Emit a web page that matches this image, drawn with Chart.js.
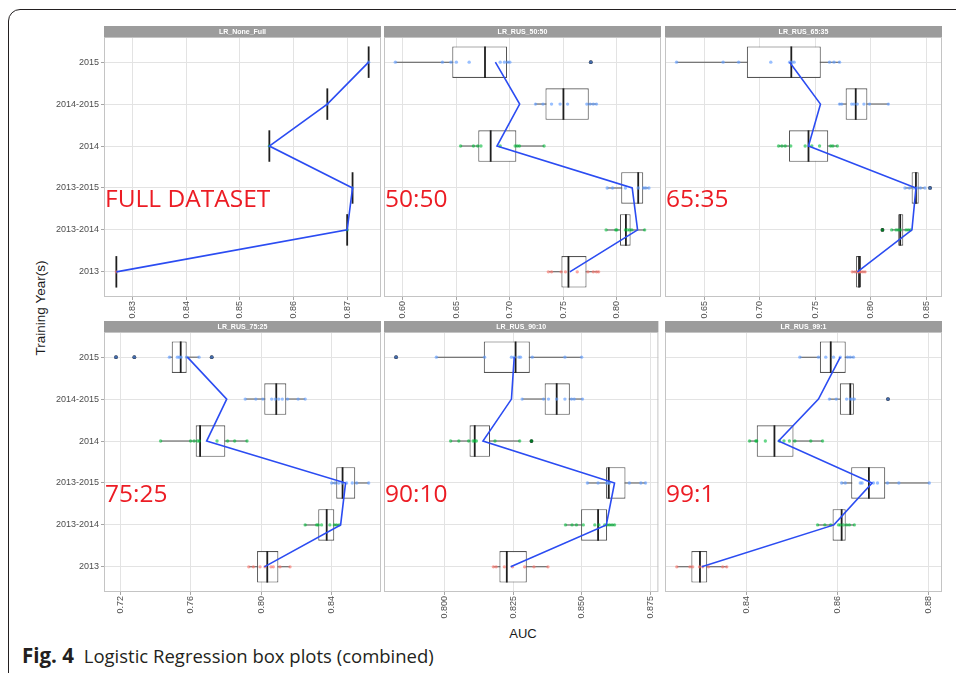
<!DOCTYPE html>
<html>
<head>
<meta charset="utf-8">
<script src="https://cdn.jsdelivr.net/npm/chart.js@4.4.0/dist/chart.umd.min.js"></script>
<style>
  body { margin:0; background:#fff; width:956px; height:673px; overflow:hidden; position:relative; font-family:"Liberation Sans", Arial, sans-serif; }
  .frame { position:absolute; left:8px; top:9px; width:1000px; height:700px; border:1.3px solid #231f20; border-radius:12px; }
  canvas { position:absolute; }
  .ylab { position:absolute; left:40px; top:308px; transform:translate(-50%,-50%) rotate(-90deg); font-size:13.5px; color:#1a1a1a; white-space:nowrap; }
  .xlab { position:absolute; left:523px; top:633px; transform:translate(-50%,-50%); font-size:13px; color:#1a1a1a; }
  .caption { position:absolute; left:22px; top:645px; font-family:"Open Sans", sans-serif; font-size:18.5px; color:#231f20; line-height:20px; white-space:nowrap; }
  .caption b { font-size:20.5px; margin-right:5px; }
</style>
</head>
<body>
<div class="frame"></div>
<div class="ylab">Training Year(s)</div>
<div class="xlab">AUC</div>
<div class="caption"><b>Fig. 4</b> Logistic Regression box plots (combined)</div>

<script>
// categories, bottom to top
var years = ['2013', '2013-2014', '2013-2015', '2014', '2014-2015', '2015'];
var panelNames = ['LR_None_Full', 'LR_RUS_50:50', 'LR_RUS_65:35', 'LR_RUS_75:25', 'LR_RUS_90:10', 'LR_RUS_99:1'];
var panelTags = ['FULL DATASET', '50:50', '65:35', '75:25', '90:10', '99:1'];

// x ticks + labels per panel
var ticksFull = [0.83, 0.84, 0.85, 0.86, 0.87];
var labelsFull = ['0.83', '0.84', '0.85', '0.86', '0.87'];
var ticks5050 = [0.60, 0.65, 0.70, 0.75, 0.80];
var labels5050 = ['0.60', '0.65', '0.70', '0.75', '0.80'];
var ticks6535 = [0.65, 0.70, 0.75, 0.80, 0.85];
var labels6535 = ['0.65', '0.70', '0.75', '0.80', '0.85'];
var ticks7525 = [0.72, 0.76, 0.80, 0.84];
var labels7525 = ['0.72', '0.76', '0.80', '0.84'];
var ticks9010 = [0.800, 0.825, 0.850, 0.875];
var labels9010 = ['0.800', '0.825', '0.850', '0.875'];
var ticks991 = [0.84, 0.86, 0.88];
var labels991 = ['0.84', '0.86', '0.88'];

// axis limits [min, max]
var limFull = [0.8247, 0.8763];
var lim5050 = [0.5824, 0.8413];
var lim6535 = [0.6146, 0.8644];
var lim7525 = [0.7109, 0.8680];
var lim9010 = [0.7779, 0.8780];
var lim991 = [0.8220, 0.8830];

// box stats per year: [lower whisker, q1, median, q3, upper whisker]
var statsFull = [[0.827,0.827,0.827,0.827,0.827],[0.870,0.870,0.870,0.870,0.870],[0.871,0.871,0.871,0.871,0.871],
  [0.8555,0.8555,0.8555,0.8555,0.8555],[0.8663,0.8663,0.8663,0.8663,0.8663],[0.874,0.874,0.874,0.874,0.874]];
var stats5050 = [[0.7364,0.7482,0.7548,0.7717,0.7832],[0.7904,0.8029,0.8085,0.8129,0.8263],[0.7913,0.8041,0.8200,0.8247,0.8297],
  [0.6540,0.6705,0.6821,0.7061,0.7320],[0.7236,0.7333,0.7501,0.7738,0.7810],[0.5931,0.6462,0.6768,0.6974,0.6999]];
var stats6535 = [[0.7835,0.7869,0.7896,0.7914,0.7956],[0.8192,0.8249,0.8267,0.8295,0.8358],[0.8313,0.8370,0.8409,0.8434,0.8485],
  [0.7171,0.7264,0.7440,0.7618,0.7699],[0.7715,0.7775,0.7866,0.7971,0.8165],[0.6249,0.6884,0.7285,0.7551,0.7724]];
var stats7525 = [[0.7931,0.7977,0.8035,0.8098,0.8164],[0.8247,0.8324,0.8372,0.8415,0.8443],[0.8400,0.8426,0.8462,0.8534,0.8610],
  [0.7431,0.7629,0.7654,0.7797,0.7922],[0.7912,0.8018,0.8086,0.8143,0.8249],[0.7480,0.7493,0.7544,0.7578,0.7648]];
var stats9010 = [[0.8178,0.8200,0.8227,0.8300,0.8377],[0.8441,0.8498,0.8560,0.8593,0.8620],[0.8521,0.8589,0.8599,0.8660,0.8733],
  [0.8022,0.8091,0.8110,0.8166,0.8274],[0.8283,0.8365,0.8409,0.8457,0.8503],[0.7970,0.8143,0.8259,0.8311,0.8500]];
var stats991 = [[0.8246,0.8278,0.8297,0.8313,0.8357],[0.8556,0.8589,0.8609,0.8618,0.8637],[0.8609,0.8630,0.8669,0.8705,0.8802],
  [0.8406,0.8422,0.8461,0.8503,0.8567],[0.8582,0.8605,0.8628,0.8636,0.8637],[0.8517,0.8561,0.8585,0.8618,0.8635]];

// blue line values per year
var lineFull = [0.8270, 0.8700, 0.8710, 0.8555, 0.8663, 0.8740];
var line5050 = [0.7561, 0.8194, 0.8144, 0.6880, 0.7092, 0.6865];
var line6535 = [0.7881, 0.8373, 0.8409, 0.7440, 0.7548, 0.7270];
var line7525 = [0.8018, 0.8451, 0.8479, 0.7691, 0.7805, 0.7582];
var line9010 = [0.8241, 0.8590, 0.8620, 0.8140, 0.8244, 0.8254];
var line991 = [0.8301, 0.8592, 0.8676, 0.8470, 0.8558, 0.8606];

// outliers per year
var outFull = [[],[],[],[],[],[]];
var out5050 = [[],[],[],[],[],[0.7757]];
var out6535 = [[],[0.8107],[0.8536],[],[],[]];
var out7525 = [[],[],[],[],[],[0.7177,0.7281,0.7720]];
var out9010 = [[],[],[],[0.8317],[],[0.7823]];
var out991 = [[],[],[],[],[0.8711],[]];

// individual runs per year
var ptsFull = [[0.827],[0.870],[0.871],[0.8555],[0.8663],[0.874]];
var pts5050 = [
  [0.736,0.739,0.748,0.752,0.763,0.773,0.778,0.781,0.783],
  [0.790,0.799,0.800,0.808,0.810,0.812,0.814,0.826],
  [0.791,0.796,0.808,0.820,0.825,0.827,0.830],
  [0.654,0.666,0.670,0.673,0.691,0.705,0.707,0.709,0.732],
  [0.724,0.731,0.739,0.747,0.754,0.772,0.775,0.778,0.781],
  [0.593,0.637,0.645,0.650,0.662,0.691,0.695,0.698,0.700,0.7757]];
var pts6535 = [
  [0.7835,0.786,0.788,0.789,0.790,0.791,0.793,0.795],
  [0.8107,0.819,0.823,0.825,0.827,0.832,0.834,0.836],
  [0.831,0.835,0.839,0.842,0.845,0.849,0.8536],
  [0.717,0.720,0.723,0.728,0.741,0.747,0.754,0.764,0.766,0.770],
  [0.772,0.774,0.783,0.785,0.788,0.794,0.799,0.816],
  [0.625,0.667,0.681,0.710,0.727,0.729,0.731,0.763,0.767,0.772]];
var pts7525 = [
  [0.793,0.7956,0.7994,0.8022,0.8056,0.8069,0.8107,0.8164],
  [0.825,0.8315,0.8324,0.8343,0.839,0.8415,0.8428,0.8443],
  [0.840,0.842,0.844,0.846,0.8485,0.8517,0.8542,0.861],
  [0.743,0.760,0.762,0.764,0.765,0.775,0.781,0.785,0.792],
  [0.791,0.797,0.801,0.806,0.808,0.810,0.812,0.815,0.821,0.825],
  [0.7177,0.7281,0.748,0.7525,0.7536,0.7546,0.7578,0.7648,0.7720]];
var pts9010 = [
  [0.8178,0.8188,0.8218,0.8248,0.8292,0.8326,0.8377],
  [0.8441,0.8465,0.8481,0.8506,0.8548,0.8563,0.8584,0.8593,0.8602,0.8611,0.8620],
  [0.8521,0.8560,0.8591,0.8597,0.8602,0.8674,0.8716,0.8733],
  [0.8022,0.8052,0.8088,0.8104,0.8110,0.8116,0.8184,0.8274,0.8317],
  [0.8283,0.8361,0.8379,0.8409,0.8439,0.8463,0.8473,0.8503],
  [0.7823,0.7970,0.8146,0.8244,0.8254,0.8271,0.8277,0.8320,0.8439,0.8500]];
var pts991 = [
  [0.8246,0.8275,0.8281,0.8296,0.8303,0.8316,0.8347,0.8356],
  [0.8556,0.8572,0.8585,0.8602,0.8606,0.8613,0.8620,0.8626,0.8637],
  [0.8609,0.8617,0.8650,0.8654,0.8679,0.8688,0.8710,0.8735,0.8802],
  [0.8406,0.8420,0.8422,0.8441,0.8472,0.8482,0.8494,0.8506,0.8541,0.8567],
  [0.8582,0.8597,0.8620,0.8628,0.8632,0.8637,0.8711],
  [0.8517,0.8558,0.8574,0.8591,0.8606,0.8622,0.8628,0.8635]];

var tagY = 2.75; // y position (in category units) of the big red labels

var yearColors = ['rgba(248,118,109,0.65)', 'rgba(0,186,56,0.6)', 'rgba(97,156,255,0.65)',
                  'rgba(0,186,56,0.6)', 'rgba(97,156,255,0.65)', 'rgba(97,156,255,0.65)'];

var panels = [
  {stats:statsFull, pts:ptsFull, out:outFull, line:lineFull, ticks:ticksFull, labels:labelsFull, lim:limFull},
  {stats:stats5050, pts:pts5050, out:out5050, line:line5050, ticks:ticks5050, labels:labels5050, lim:lim5050},
  {stats:stats6535, pts:pts6535, out:out6535, line:line6535, ticks:ticks6535, labels:labels6535, lim:lim6535},
  {stats:stats7525, pts:pts7525, out:out7525, line:line7525, ticks:ticks7525, labels:labels7525, lim:lim7525},
  {stats:stats9010, pts:pts9010, out:out9010, line:line9010, ticks:ticks9010, labels:labels9010, lim:lim9010},
  {stats:stats991, pts:pts991, out:out991, line:line991, ticks:ticks991, labels:labels991, lim:lim991}
];

var colLeft = [104, 384, 665];
var rowTop = [37, 332];
var plotW = 277, plotH = 260, stripH = 11, xAxisH = 28, yAxisW = 84;
var FONT = '"Liberation Sans", Arial, sans-serif';

var panelDecor = {
  id: 'panelDecor',
  beforeDraw: function(chart, args, opts) {
    var ctx = chart.ctx, a = chart.chartArea;
    ctx.save();
    ctx.fillStyle = '#fff';
    ctx.fillRect(a.left, a.top, a.right - a.left, a.bottom - a.top);
    ctx.fillStyle = '#9c9c9c';
    ctx.fillRect(a.left, a.top - stripH, a.right - a.left, stripH);
    ctx.fillStyle = '#fff';
    ctx.font = 'bold 7px ' + FONT;
    ctx.textAlign = 'center';
    ctx.textBaseline = 'middle';
    ctx.fillText(opts.name, (a.left + a.right) / 2, a.top - stripH / 2 + 0.5);
    ctx.restore();
  },
  afterDatasetsDraw: function(chart, args, opts) {
    var ctx = chart.ctx, a = chart.chartArea;
    ctx.save();
    ctx.strokeStyle = '#c4c4c4';
    ctx.lineWidth = 1;
    ctx.strokeRect(a.left + 0.5, a.top + 0.5, a.right - a.left - 1, a.bottom - a.top - 1);
    ctx.fillStyle = '#ec1c24';
    ctx.font = '24.5px "Open Sans", sans-serif';
    ctx.textAlign = 'left';
    ctx.textBaseline = 'alphabetic';
    ctx.fillText(opts.tag, a.left + 1, chart.scales.y.getPixelForValue(tagY) + 8.75);
    ctx.restore();
  }
};

function halfBox(ctx) {
  var y = ctx.chart.scales.y;
  return Math.abs(y.getPixelForValue(0.375) - y.getPixelForValue(0));
}

function MakePanel(p, i) {
  var col = i % 3, row = Math.floor(i / 3);
  var yw = col === 0 ? yAxisW : 0;
  var cv = document.createElement('canvas');
  cv.width = yw + plotW + 1;
  cv.height = 1 + stripH + plotH + xAxisH;
  cv.style.left = (colLeft[col] - yw) + 'px';
  cv.style.top = (rowTop[row] - stripH - 1) + 'px';
  document.body.appendChild(cv);

  var ptData = [], ptColors = [], outData = [];
  p.pts.forEach(function(arr, k) {
    arr.forEach(function(v) { ptData.push({x: v, y: k + 1}); ptColors.push(yearColors[k]); });
  });
  p.out.forEach(function(arr, k) {
    arr.forEach(function(v) { outData.push({x: v, y: k + 1}); });
  });

  var datasets = [
    { type:'scatter', data: p.line.map(function(v, k) { return {x: v, y: k + 1}; }),
      showLine:true, borderColor:'#2b4cf2', borderWidth:1.6, pointRadius:0, order:0 },
    { type:'scatter', data: ptData, pointRadius:1.7, pointBorderWidth:0,
      pointBackgroundColor: ptColors, order:1 },
    { type:'scatter', data: outData, pointRadius:1.9, pointBorderWidth:0,
      pointBackgroundColor:'#111', order:2 },
    { type:'scatter', data: p.stats.map(function(s, k) { return {x: s[2], y: k + 1}; }),
      pointStyle:'line', rotation:90, radius: halfBox, borderColor:'#1e1e1e', borderWidth:1.8, order:3 },
    { type:'bar', indexAxis:'y', data: p.stats.map(function(s, k) { return {x: [s[1], s[3]], y: k + 1}; }),
      backgroundColor:'#fff', borderColor:'#555', borderWidth:1.1, borderSkipped:false,
      grouped:false, categoryPercentage:0.75, barPercentage:1, order:4 },
    { type:'bar', indexAxis:'y', data: p.stats.map(function(s, k) { return {x: [s[0], s[4]], y: k + 1}; }),
      backgroundColor:'#555', borderWidth:0, grouped:false, maxBarThickness:1, order:5 }
  ];

  new Chart(cv, {
    type: 'scatter',
    data: { datasets: datasets },
    options: {
      responsive: false,
      animation: false,
      events: [],
      layout: { padding: { top: stripH + 1, right: 1, left: 0, bottom: 0 }, autoPadding: false },
      plugins: {
        legend: { display: false },
        tooltip: { enabled: false },
        panelDecor: { name: panelNames[i], tag: panelTags[i] }
      },
      scales: {
        x: {
          type: 'linear', min: p.lim[0], max: p.lim[1], offset: false,
          afterBuildTicks: function(s) { s.ticks = p.ticks.map(function(v) { return {value: v}; }); },
          afterFit: function(s) { s.height = xAxisH; },
          ticks: { callback: function(v, idx) { return p.labels[idx]; }, minRotation: 90, maxRotation: 90,
                   autoSkip: false, font: { size: 9, family: FONT }, color: '#4d4d4d', padding: 1 },
          grid: { offset: false, color: '#e3e3e3', tickColor: '#a6a6a6', tickLength: 3, lineWidth: 1 },
          border: { display: false }
        },
        y: {
          type: 'linear', min: 0.4, max: 6.6, offset: false,
          afterBuildTicks: function(s) { s.ticks = years.map(function(y, k) { return {value: k + 1}; }); },
          afterFit: function(s) { s.width = yw; },
          ticks: { display: col === 0, callback: function(v, idx) { return years[idx]; }, autoSkip: false,
                   font: { size: 9, family: FONT }, color: '#4d4d4d', padding: 2 },
          grid: { offset: false, color: '#e3e3e3', drawTicks: col === 0, tickColor: '#a6a6a6', tickLength: 3, lineWidth: 1 },
          border: { display: false }
        }
      }
    },
    plugins: [panelDecor]
  });
}

panels.forEach(MakePanel);
</script>
</body>
</html>
